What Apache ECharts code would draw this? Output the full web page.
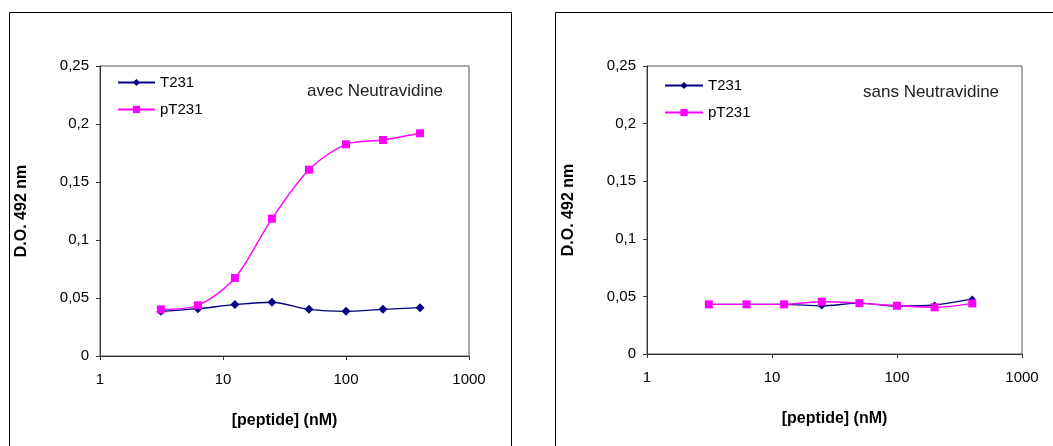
<!DOCTYPE html>
<html><head><meta charset="utf-8">
<script src="https://cdn.jsdelivr.net/npm/echarts@6/dist/echarts.min.js"></script>
<style>html,body{margin:0;padding:0;background:#fff}#c{width:1053px;height:446px}</style>
</head><body><div id="c"></div>
<script>
const concentrations = [3.125, 6.25, 12.5, 25, 50, 100, 200, 400];
const avecT231 = [0.0385, 0.0408, 0.0443, 0.0463, 0.0402, 0.0385, 0.0402, 0.0417];
const avecPT231 = [0.0402, 0.0437, 0.0672, 0.1184, 0.1606, 0.1825, 0.1862, 0.1920];
const sansT231 = [0.0431, 0.0431, 0.0431, 0.0417, 0.0442, 0.0415, 0.0425, 0.0478];
const sansPT231 = [0.0431, 0.0431, 0.0431, 0.0454, 0.0442, 0.0419, 0.0405, 0.0439];
const xTicks = [1, 10, 100, 1000];
const yTicks = [0, 0.05, 0.1, 0.15, 0.2, 0.25];
const panelTitles = ['avec Neutravidine', 'sans Neutravidine'];
const seriesNames = ['T231', 'pT231'];
const xName = '[peptide] (nM)';
const yName = 'D.O. 492 nm';

const FONT = 'Liberation Sans, Arial, sans-serif';
const NAVY = '#000080', MAG = '#FF00FF';
const pts = ys => concentrations.map((x, i) => [x, ys[i]]);

const grids = [
  {left: 100, top: 66, width: 369, height: 290},
  {left: 647, top: 66, width: 375, height: 288}
];
function xAx(i) {
  return {
    type: 'log', logBase: 10, min: xTicks[0], max: xTicks[xTicks.length - 1], gridIndex: i,
    name: xName, nameLocation: 'middle', nameGap: 57,
    nameTextStyle: {fontFamily: FONT, fontSize: 16, fontWeight: 'bold', color: '#000'},
    axisLine: {lineStyle: {color: '#333', width: 1}},
    axisTick: {show: true, length: 4, lineStyle: {color: '#333'}},
    axisLabel: {fontFamily: FONT, fontSize: 15, color: '#000', margin: 16,
      formatter: v => String(Math.round(v))},
    splitLine: {show: false}
  };
}
function yAx(i) {
  return {
    type: 'value', min: yTicks[0], max: yTicks[yTicks.length - 1], interval: 0.05, gridIndex: i,
    name: yName, nameLocation: 'middle', nameGap: 70,
    nameTextStyle: {fontFamily: FONT, fontSize: 16, fontWeight: 'bold', color: '#000'},
    axisLine: {show: true, lineStyle: {color: '#333', width: 1}},
    axisTick: {show: true, length: 4, lineStyle: {color: '#333'}},
    axisLabel: {fontFamily: FONT, fontSize: 15, color: '#000', margin: 11,
      formatter: v => String(+v.toFixed(2)).replace('.', ',')},
    splitLine: {show: false}
  };
}
function ser(name, data, i, color, symbol, size) {
  return {
    name, type: 'line', xAxisIndex: i, yAxisIndex: i, data,
    smooth: 0.3, symbol, symbolSize: size, showSymbol: true,
    itemStyle: {color}, lineStyle: {color, width: 1.4}, z: name === 'pT231' ? 3 : 2
  };
}
const legendText = {fontFamily: FONT, fontSize: 15, color: '#000'};
const chart = echarts.init(document.getElementById('c'), null, {renderer: 'canvas'});
chart.setOption({
  animation: false,
  backgroundColor: '#fff',
  grid: grids.map(g => Object.assign({show: true, borderColor: '#555', borderWidth: 1, backgroundColor: 'transparent'}, g)),
  xAxis: [xAx(0), xAx(1)],
  yAxis: [yAx(0), yAx(1)],
  legend: [
    {left: 112, top: 70, orient: 'vertical', itemGap: 12, itemWidth: 37, itemHeight: 9,
     textStyle: legendText, data: seriesNames, selectedMode: false},
    {left: 659, top: 73, orient: 'vertical', itemGap: 12, itemWidth: 38, itemHeight: 9,
     textStyle: legendText, data: seriesNames, selectedMode: false}
  ],
  title: [
    {text: panelTitles[0], left: 302, top: 78, textStyle: {fontFamily: FONT, fontSize: 17, fontWeight: 'normal', color: '#222'}},
    {text: panelTitles[1], left: 858, top: 79, textStyle: {fontFamily: FONT, fontSize: 17, fontWeight: 'normal', color: '#222'}}
  ],
  graphic: [
    {type: 'rect', shape: {x: 9.5, y: 12.5, width: 502, height: 450}, style: {fill: 'none', stroke: '#000', lineWidth: 1}, silent: true},
    {type: 'rect', shape: {x: 555.5, y: 12.5, width: 520, height: 450}, style: {fill: 'none', stroke: '#000', lineWidth: 1}, silent: true}
  ],
  series: [
    ser(seriesNames[0], pts(avecT231), 0, NAVY, 'diamond', 9),
    ser(seriesNames[1], pts(avecPT231), 0, MAG, 'rect', 8),
    ser(seriesNames[0], pts(sansT231), 1, NAVY, 'diamond', 7),
    ser(seriesNames[1], pts(sansPT231), 1, MAG, 'rect', 8)
  ]
});
</script></body></html>
